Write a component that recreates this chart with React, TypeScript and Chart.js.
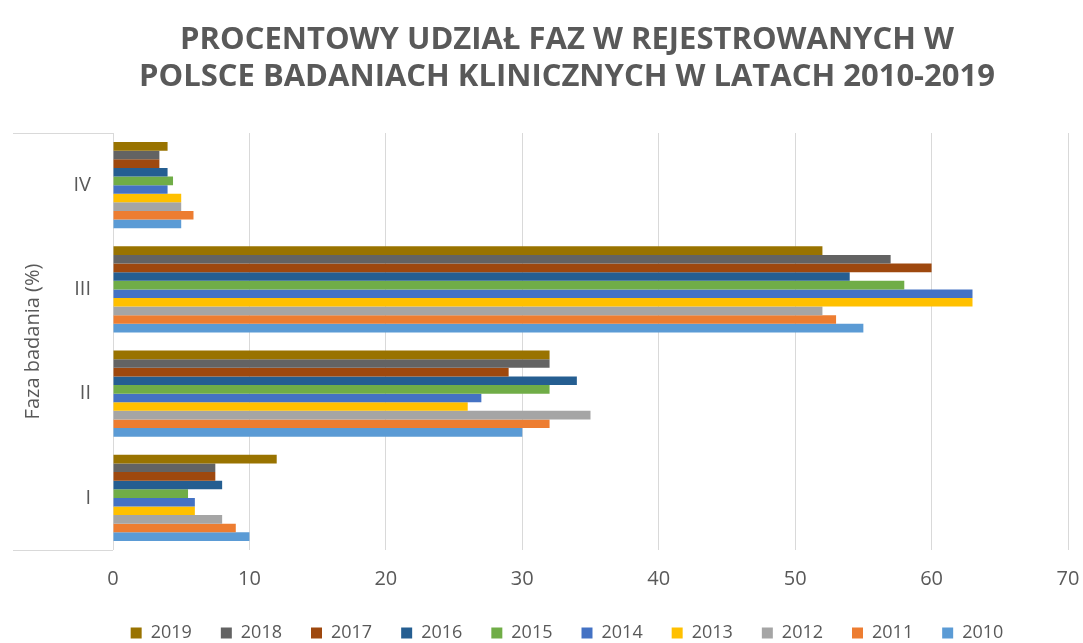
import { useEffect, useRef } from 'react';
import { Chart, registerables } from 'chart.js';

Chart.register(...registerables);

const TITLE_LINES = [
  'PROCENTOWY UDZIAŁ FAZ W REJESTROWANYCH W',
  'POLSCE BADANIACH KLINICZNYCH W LATACH 2010-2019',
];
const Y_TITLE = 'Faza badania (%)';

// categories, top to bottom
const PHASES = ['IV', 'III', 'II', 'I'];

// series (legend order), values per phase [IV, III, II, I]
const YEARS = ['2019', '2018', '2017', '2016', '2015', '2014', '2013', '2012', '2011', '2010'];
const V2019 = [4, 52, 32, 12];
const V2018 = [3.4, 57, 32, 7.5];
const V2017 = [3.4, 60, 29, 7.5];
const V2016 = [4, 54, 34, 8];
const V2015 = [4.4, 58, 32, 5.5];
const V2014 = [4, 63, 27, 6];
const V2013 = [5, 63, 26, 6];
const V2012 = [5, 52, 35, 8];
const V2011 = [5.9, 53, 32, 9];
const V2010 = [5, 55, 30, 10];
const SERIES = [V2019, V2018, V2017, V2016, V2015, V2014, V2013, V2012, V2011, V2010];

const COLORS = [
  '#997300', '#636363', '#9E480E', '#255E91', '#70AD47',
  '#4472C4', '#FFC000', '#A5A5A5', '#ED7D31', '#5B9BD5',
];

const X_MIN = 0;
const X_MAX = 70;
const X_STEP = 10;

const TEXT = '#595959';
const GRID = '#d9d9d9';

export default function App() {
  const ref = useRef<HTMLCanvasElement>(null);

  useEffect(() => {
    if (!ref.current) return;
    Chart.defaults.font.family = "'Open Sans', sans-serif";
    const chart = new Chart(ref.current, {
      type: 'bar',
      data: {
        labels: PHASES,
        datasets: SERIES.map((d, i) => ({
          label: YEARS[i],
          data: d,
          backgroundColor: COLORS[i],
          borderWidth: 0,
          categoryPercentage: 0.825,
          barPercentage: 1,
        })),
      },
      options: {
        indexAxis: 'y',
        animation: false,
        responsive: false,
        layout: { padding: { left: 66, right: 15, top: 0, bottom: -9 } },
        plugins: {
          title: {
            display: true,
            text: TITLE_LINES,
            color: TEXT,
            font: { size: 31, weight: 'bold', lineHeight: 1.2 },
            padding: { top: 21.4, bottom: 37.2 },
          },
          legend: {
            position: 'bottom',
            labels: {
              boxWidth: 11,
              boxHeight: 11,
              padding: 29,
              color: TEXT,
              font: { size: 18 },
            },
          },
          tooltip: { enabled: false },
        },
        scales: {
          x: {
            min: X_MIN,
            max: X_MAX,
            ticks: { stepSize: X_STEP, color: TEXT, font: { size: 20 }, padding: 0 },
            grid: { color: GRID, drawTicks: true, tickLength: 17, tickColor: 'rgba(0,0,0,0)' },
            border: { display: false },
            afterFit: (s: any) => { s.height = 45; },
          },
          y: {
            ticks: { color: TEXT, font: { size: 20 }, padding: -78 },
            grid: {
              drawOnChartArea: false,
              drawTicks: true,
              tickLength: 100,
              color: (c: any) => (c.type === 'scale' || c.index === 0 ? GRID : 'rgba(0,0,0,0)'),
            },
            border: { display: false },
            title: {
              display: true,
              text: Y_TITLE,
              color: TEXT,
              font: { size: 20 },
              padding: { top: -45, bottom: 0 },
            },
            afterFit: (s: any) => { s.width = 47; },
          },
        },
      },
    } as any);
    return () => chart.destroy();
  }, []);

  return (
    <div style={{ position: 'absolute', left: 0, top: 0, width: 1083, height: 643, background: '#fff' }}>
      <canvas ref={ref} width={1083} height={643} style={{ display: 'block' }} />
    </div>
  );
}
